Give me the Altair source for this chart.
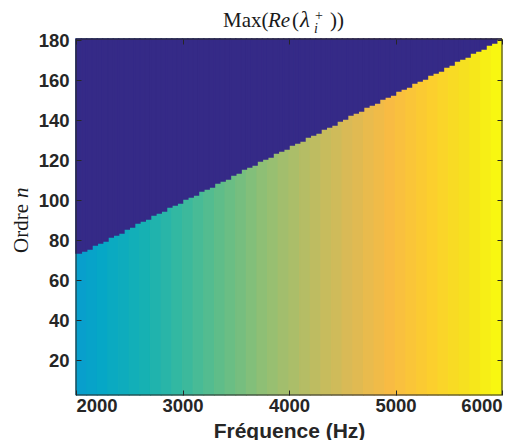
import altair as alt
import pandas as pd

# ---- data ----
# colour columns (100 Hz wide): normalised Max(Re(lambda_i^+)) below the boundary
col_freqs = list(range(2000, 6000, 100))
col_values = [0.348, 0.365, 0.381, 0.398, 0.414, 0.431, 0.447, 0.464, 0.480, 0.497,
              0.513, 0.530, 0.546, 0.563, 0.579, 0.596, 0.612, 0.629, 0.645, 0.662,
              0.678, 0.695, 0.711, 0.728, 0.744, 0.761, 0.777, 0.794, 0.810, 0.827,
              0.843, 0.860, 0.876, 0.893, 0.909, 0.926, 0.942, 0.959, 0.975, 0.992]
# boundary (last order n that is not at the minimum value), per 50 Hz
bnd_freqs = list(range(2000, 6000, 50))
bnd_orders = [73, 74, 75, 77, 78, 79, 81, 82, 83, 85,
              86, 88, 89, 90, 92, 93, 94, 96, 97, 98,
              100, 101, 102, 104, 105, 106, 108, 109, 110, 112,
              113, 115, 116, 117, 119, 120, 121, 123, 124, 125,
              127, 128, 129, 131, 132, 133, 135, 136, 137, 139,
              140, 142, 143, 144, 146, 147, 148, 150, 151, 152,
              154, 155, 156, 158, 159, 160, 162, 163, 164, 166,
              167, 169, 170, 171, 173, 174, 175, 177, 178, 180]
min_value = 0.0
x_domain = [2000, 6000]
y_domain = [2.5, 180.5]
x_ticks = [2000, 3000, 4000, 5000, 6000]
y_ticks = [20, 40, 60, 80, 100, 120, 140, 160, 180]

# parula colour map
parula_pos = [0, 4, 8, 12, 16, 20, 24, 28, 32, 36, 40, 44, 48, 52, 56, 60, 63]
parula_hex = ["#352a87", "#3243ba", "#0363e1", "#0d75dc", "#1485d4", "#0998d1",
              "#06a7c6", "#15b1b4", "#38b99e", "#65be86", "#92bf73", "#b7bd64",
              "#d9ba56", "#f8bb44", "#fcce2e", "#f5e41d", "#f9fb0e"]
parula_domain = [p / 63 for p in parula_pos]

col_step = 100
bnd_step = 50
cols = pd.DataFrame({
    "f": col_freqs,
    "f2": [f + col_step for f in col_freqs],
    "n0": [y_domain[0]] * len(col_freqs),
    "n1": [y_domain[1]] * len(col_freqs),
    "v": col_values,
})
dark = pd.DataFrame({
    "f": bnd_freqs,
    "f2": [f + bnd_step for f in bnd_freqs],
    "n0": [b + 0.5 for b in bnd_orders],
    "n1": [y_domain[1]] * len(bnd_freqs),
    "v": [min_value] * len(bnd_freqs),
})
frame = pd.DataFrame({"f": [x_domain[0]], "f2": [x_domain[1]],
                      "n0": [y_domain[0]], "n1": [y_domain[1]]})

INK = "#262626"
x_scale = alt.Scale(domain=x_domain, nice=False, zero=False)
y_scale = alt.Scale(domain=y_domain, nice=False, zero=False)
c_scale = alt.Scale(domain=parula_domain, range=parula_hex, interpolate="rgb")

axis_common = dict(tickSize=5, offset=-5, domain=False, grid=False, tickColor=INK,
                   tickWidth=1, labelFont="Liberation Sans", labelFontWeight="bold",
                   labelFontSize=18.5, labelColor=INK, zindex=1, format="d")

x_bottom = alt.Axis(values=x_ticks, orient="bottom", labelPadding=1,
                    title="Fréquence (Hz)", titleFont="Liberation Sans",
                    titleFontWeight="bold", titleFontSize=21, titleColor=INK,
                    titleBaseline="alphabetic", titleY=47, **axis_common)
y_left = alt.Axis(values=y_ticks, orient="left", labelPadding=7, title=None,
                  **axis_common)
x_top = alt.Axis(values=x_ticks, orient="top", labels=False, title=None,
                 tickSize=5, offset=-5, domain=False, grid=False, tickColor=INK, zindex=1)
y_right = alt.Axis(values=y_ticks, orient="right", labels=False, title=None,
                   tickSize=5, offset=-5, domain=False, grid=False, tickColor=INK, zindex=1)

colour_layer = alt.Chart(cols).mark_rect(strokeWidth=1.2).encode(
    x=alt.X("f:Q", scale=x_scale, axis=x_bottom),
    x2="f2:Q",
    y=alt.Y("n0:Q", scale=y_scale, axis=y_left),
    y2="n1:Q",
    color=alt.Color("v:Q", scale=c_scale, legend=None),
    stroke=alt.Stroke("v:Q", scale=c_scale, legend=None),
)
dark_layer = alt.Chart(dark).mark_rect(strokeWidth=1.5).encode(
    x=alt.X("f:Q", scale=x_scale, axis=None),
    x2="f2:Q",
    y=alt.Y("n0:Q", scale=y_scale, axis=None),
    y2="n1:Q",
    color=alt.Color("v:Q", scale=c_scale, legend=None),
    stroke=alt.Stroke("v:Q", scale=c_scale, legend=None),
)
frame_layer = alt.Chart(frame).mark_rect(fillOpacity=0, stroke=INK, strokeWidth=1).encode(
    x=alt.X("f:Q", scale=x_scale, axis=x_top),
    x2="f2:Q",
    y=alt.Y("n0:Q", scale=y_scale, axis=y_right),
    y2="n1:Q",
)


def label(txt, x, y, size=21, style="normal", angle=0):
    return alt.Chart(pd.DataFrame({"t": [txt]})).mark_text(
        font="Liberation Serif", fontSize=size, fontStyle=style, align="left",
        baseline="alphabetic", color="#1a1a1a", angle=angle,
    ).encode(text="t:N", x=alt.value(x), y=alt.value(y))


title_parts = [
    label("Max(", 147, -12),
    label("Re", 192, -12, style="italic"),
    label("(", 216, -12),
    label("λ", 224, -12, size=23, style="italic"),
    label("i", 238, -6, size=14, style="italic"),
    label("+", 239, -19, size=14),
    label("))", 254, -12),
]
ylabel_parts = [
    label("Ordre ", -48, 214, angle=270),
    label("n", -48, 159, style="italic", angle=270),
]

chart = alt.layer(
    colour_layer, dark_layer, frame_layer, *title_parts, *ylabel_parts
).resolve_axis(x="independent", y="independent").properties(
    width=426, height=356,
    autosize=alt.AutoSizeParams(type="none"),
    padding={"left": 68, "top": 31, "right": 13, "bottom": 45},
    background="white",
).configure_view(stroke=None)

chart.save("out.html", embed_options={"renderer": "svg", "actions": False})
